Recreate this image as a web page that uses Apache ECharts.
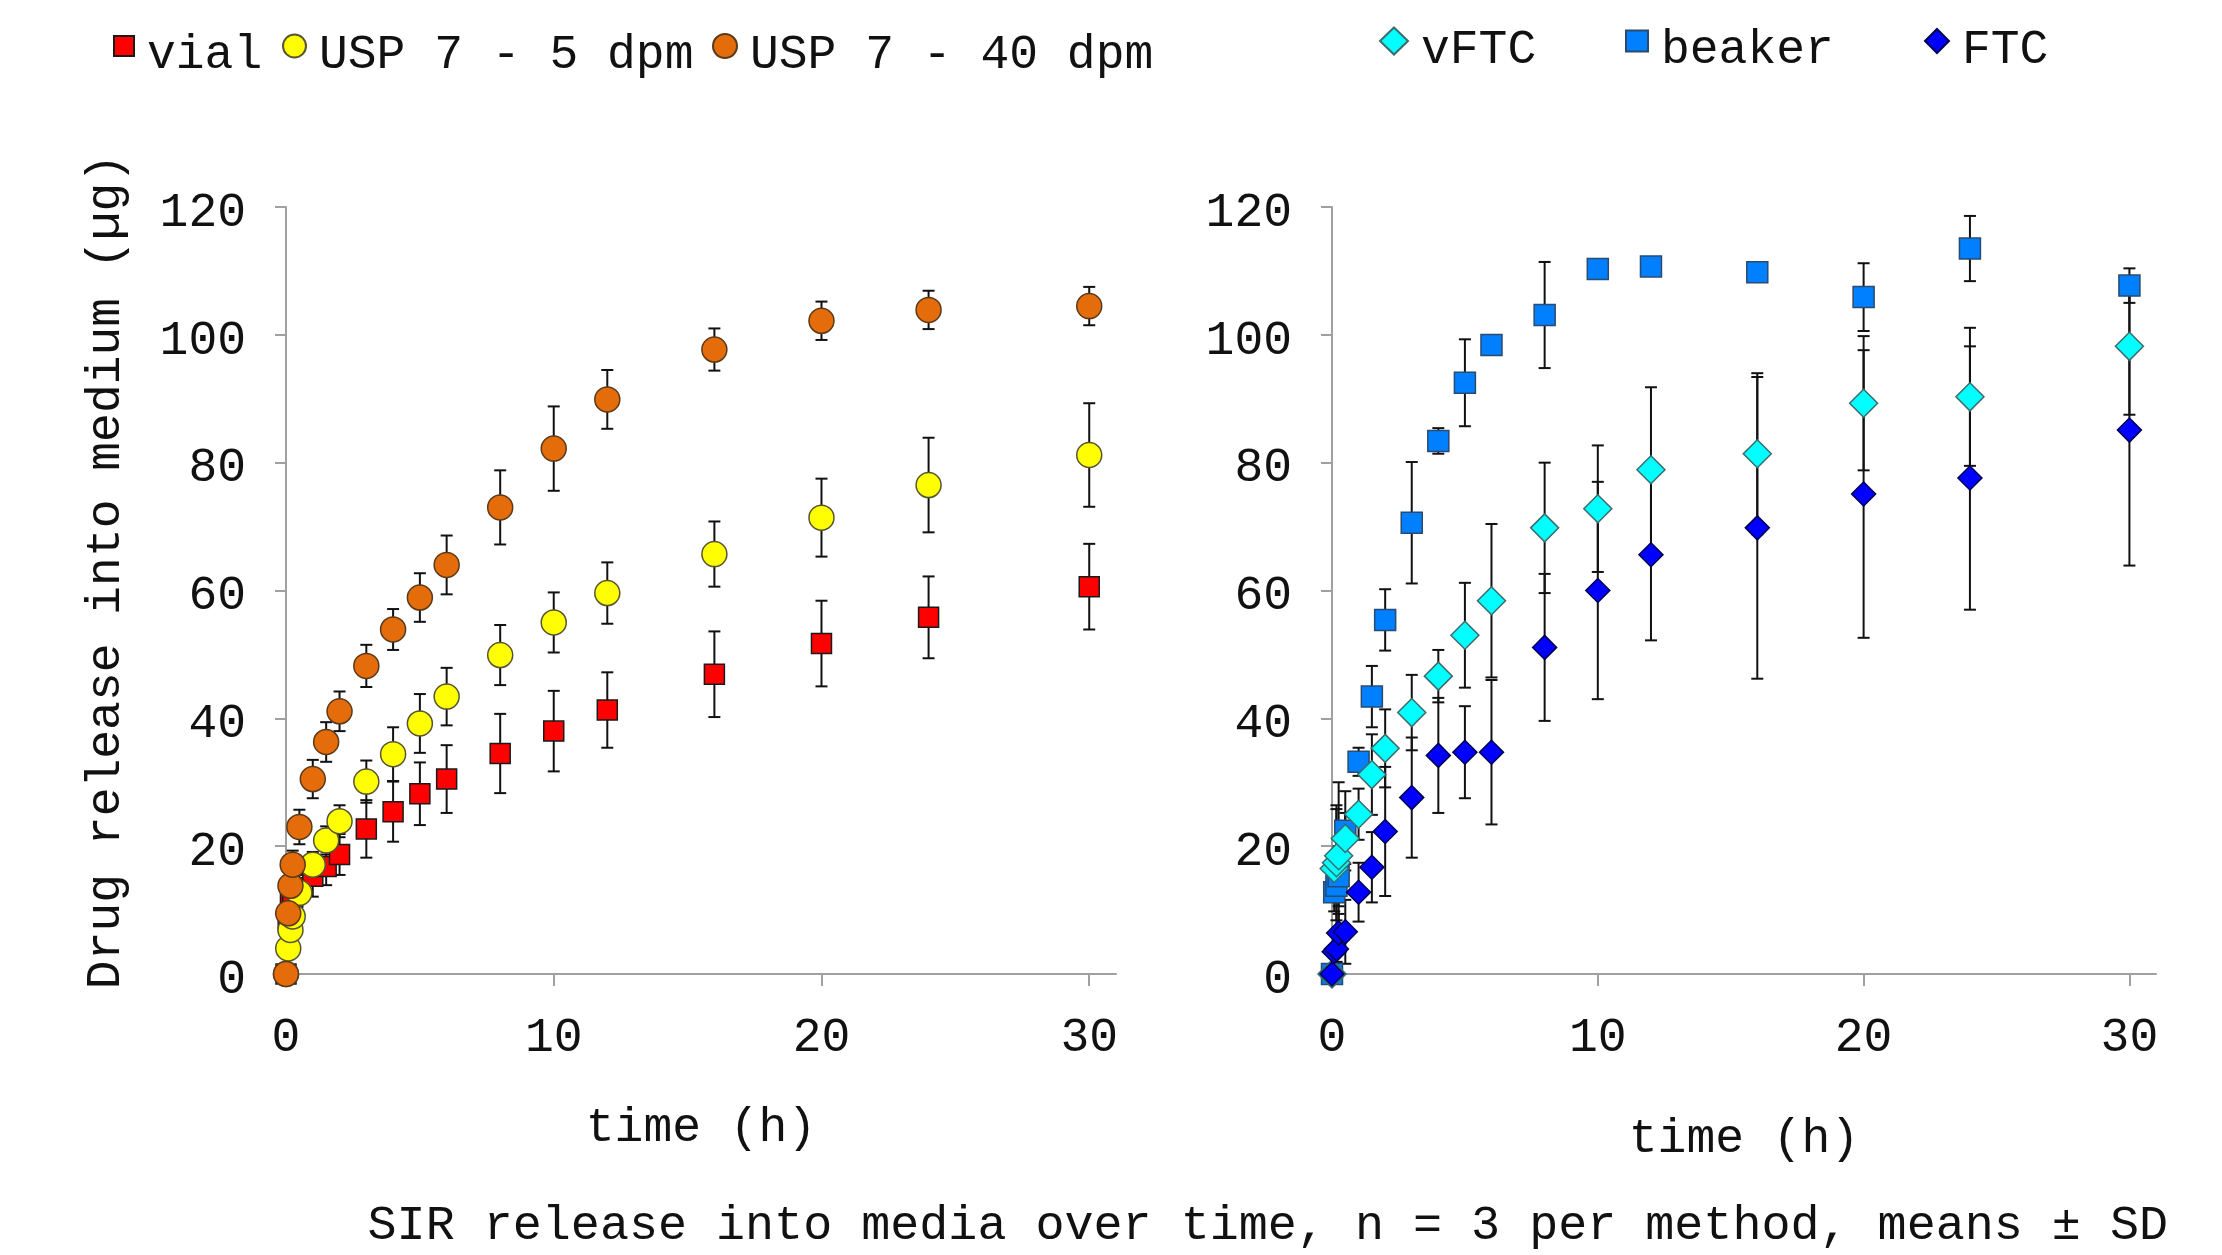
<!DOCTYPE html>
<html><head><meta charset="utf-8">
<script src="https://cdn.jsdelivr.net/npm/echarts@6/dist/echarts.min.js"></script>
<style>html,body{margin:0;padding:0;background:#fff}#c{width:2222px;height:1255px}</style>
</head><body><div id="c"></div>
<script>
// ---- data ----
const times = [0, 0.083, 0.167, 0.25, 0.5, 1, 1.5, 2, 3, 4, 5, 6, 8, 10, 12, 16, 20, 24, 30];

const vialMean = [0, 8.5, 11, 12, 13.5, 15.3, 16.8, 18.7, 22.7, 25.4, 28.2, 30.5, 34.5, 38, 41.3, 46.9, 51.7, 55.8, 60.6];
const vialSD   = [0, 1, 1.2, 1.5, 2, 3.2, 2.9, 3.2, 4.5, 4.7, 4.9, 5.3, 6.2, 6.3, 5.9, 6.7, 6.7, 6.4, 6.7];

const usp5Mean = [0, 4, 6.9, 9, 12.7, 17.1, 20.9, 23.9, 30.1, 34.4, 39.2, 43.4, 49.9, 55, 59.6, 65.7, 71.4, 76.5, 81.2];
const usp5SD   = [0, 0.5, 0.8, 1, 1.5, 2, 2.2, 2.5, 3.3, 4.2, 4.6, 4.5, 4.7, 4.7, 4.8, 5.1, 6.1, 7.4, 8.1];

const usp40Mean = [0, 9.5, 13.8, 17.1, 23, 30.5, 36.3, 41.1, 48.2, 53.9, 58.9, 64, 73, 82.2, 89.9, 97.7, 102.2, 103.9, 104.5];
const usp40SD   = [0, 1, 1.5, 2.2, 2.7, 3, 3.1, 3.1, 3.3, 3.2, 3.8, 4.6, 5.8, 6.6, 4.6, 3.3, 3, 3, 3];

const vftcMean = [0, 16.5, 17.4, 18.5, 21.2, 25, 31.2, 35.3, 40.9, 46.6, 53, 58.4, 69.8, 72.8, 78.9, 81.4, 89.3, 90.3, 98.2];
const vftcSD   = [0, 1.5, 9, 11.5, 4, 4, 6.3, 6.1, 5.9, 4.1, 8.2, 12, 10.2, 9.9, 12.9, 12.6, 10.5, 10.8, 10.7];

const beakerMean = [0, 12.8, 13.8, 15.3, 22.4, 33.2, 43.4, 55.4, 70.6, 83.4, 92.5, 98.4, 103.1, 110.3, 110.7, 109.8, 105.9, 113.5, 107.7];
const beakerSD   = [0, 3, 12, 4.7, 6.2, 2.2, 4.8, 4.8, 9.5, 2, 6.8, 1, 8.3, 1, 0.5, 0.5, 5.3, 5.1, 2.7];

const ftcMean = [0, 3.5, 3.9, 6.4, 6.6, 12.8, 16.7, 22.3, 27.6, 34.2, 34.7, 34.7, 51.1, 60, 65.6, 69.8, 75.1, 77.6, 85.1];
const ftcSD   = [0, 1, 2, 3, 5, 4.6, 5.5, 10.1, 9.4, 9, 7.2, 11.3, 11.5, 17, 13.4, 23.6, 22.5, 20.6, 21.2];

const xTickValues = [0, 10, 20, 30];
const yMin = 0, yMax = 120, yStep = 20;
const xMin = 0, xMax = 31;

const yTitle = 'Drug release into medium (\u00b5g)';
const xTitle = 'time (h)';
const caption = 'SIR release into media over time, n = 3 per method, means \u00b1 SD';

// ---- styling ----
const FONT = '"Liberation Mono", "Courier New", monospace';
const AX = '#A0A0A0';
const FS = 48;

function pts(means) { return times.map((t, i) => [t, means[i]]); }

function errSeries(idx, means, sds) {
  const data = [];
  times.forEach((t, i) => { if (sds[i] > 0) data.push([t, means[i] - sds[i], means[i] + sds[i]]); });
  return {
    type: 'custom', xAxisIndex: idx, yAxisIndex: idx, z: 2, silent: true,
    data: data, encode: { x: 0, y: [1, 2] },
    renderItem: function (params, api) {
      const lo = api.coord([api.value(0), api.value(1)]);
      const hi = api.coord([api.value(0), api.value(2)]);
      const w = 6;
      const st = { stroke: '#111', lineWidth: 2 };
      return { type: 'group', children: [
        { type: 'line', shape: { x1: lo[0], y1: lo[1], x2: hi[0], y2: hi[1] }, style: st },
        { type: 'line', shape: { x1: lo[0] - w, y1: lo[1], x2: lo[0] + w, y2: lo[1] }, style: st },
        { type: 'line', shape: { x1: hi[0] - w, y1: hi[1], x2: hi[0] + w, y2: hi[1] }, style: st }
      ]};
    }
  };
}

function scat(name, idx, means, symbol, size, color, border, z) {
  return {
    type: 'scatter', name: name, xAxisIndex: idx, yAxisIndex: idx, z: z,
    data: pts(means), symbol: symbol, symbolSize: size,
    itemStyle: { color: color, borderColor: border, borderWidth: 1.5, opacity: 1 },
    emphasis: { disabled: true }
  };
}

function xAx(idx, gap) {
  return {
    gridIndex: idx, type: 'value', min: xMin, max: xMax,
    axisLine: { show: true, onZero: false, lineStyle: { color: AX, width: 2 } },
    axisTick: { show: true, length: 12, customValues: xTickValues, lineStyle: { color: AX, width: 2 } },
    axisLabel: { customValues: xTickValues, margin: 40, fontFamily: FONT, fontSize: FS, color: '#111' },
    splitLine: { show: false },
    name: xTitle, nameLocation: 'middle', nameGap: gap,
    nameTextStyle: { fontFamily: FONT, fontSize: FS, color: '#111' }
  };
}

function yAx(idx, withName) {
  const o = {
    gridIndex: idx, type: 'value', min: yMin, max: yMax, interval: yStep,
    axisLine: { show: true, onZero: false, lineStyle: { color: AX, width: 2 } },
    axisTick: { show: true, length: 11, lineStyle: { color: AX, width: 2 } },
    axisLabel: { margin: 40, fontFamily: FONT, fontSize: FS, color: '#111', verticalAlign: 'top', lineHeight: 12 },
    splitLine: { show: false }
  };
  if (withName) {
    o.name = yTitle; o.nameLocation = 'middle'; o.nameGap = 156;
    o.nameTextStyle = { fontFamily: FONT, fontSize: FS, color: '#111', padding: [0, 0, 0, 38] };
  }
  return o;
}

function leg(name, left, top, w, h) {
  return {
    data: [name], left: left, top: top, padding: 0, orient: 'horizontal',
    itemWidth: w, itemHeight: h, selectedMode: false,
    formatter: function (n) { return '{g| }{t|' + n + '}'; },
    textStyle: {
      fontFamily: FONT, fontSize: FS, color: '#111',
      rich: {
        g: { fontSize: 1, lineHeight: 66, width: 8 },
        t: { fontFamily: FONT, fontSize: FS, lineHeight: FS, color: '#111', verticalAlign: 'bottom' }
      }
    }
  };
}

const chart = echarts.init(document.getElementById('c'), null, { renderer: 'canvas' });
chart.setOption({
  animation: false,
  backgroundColor: '#fff',
  title: {
    text: caption, right: 54, top: 1202, padding: 0,
    textStyle: { fontFamily: FONT, fontSize: 48.4, fontWeight: 'normal', color: '#111' }
  },
  legend: [
    leg('vial', 113, 31, 20, 20),
    leg('USP 7 - 5 dpm', 282, 31, 23, 23),
    leg('USP 7 - 40 dpm', 712, 31, 24, 24),
    leg('vFTC', 1379, 26, 28, 27),
    leg('beaker', 1625, 26, 22, 21),
    leg('FTC', 1924, 26, 24, 24)
  ],
  grid: [
    { left: 286, top: 207, width: 830, height: 767 },
    { left: 1332, top: 207, width: 824, height: 767 }
  ],
  xAxis: [xAx(0, 130), xAx(1, 141)],
  yAxis: [yAx(0, true), yAx(1, false)],
  series: [
    errSeries(0, vialMean, vialSD),
    errSeries(0, usp5Mean, usp5SD),
    errSeries(0, usp40Mean, usp40SD),
    errSeries(1, beakerMean, beakerSD),
    errSeries(1, vftcMean, vftcSD),
    errSeries(1, ftcMean, ftcSD),
    scat('vial', 0, vialMean, 'rect', [20, 20], '#FF0000', '#1a1a1a', 5),
    scat('USP 7 - 5 dpm', 0, usp5Mean, 'circle', 25, '#FFFF00', '#555533', 6),
    scat('USP 7 - 40 dpm', 0, usp40Mean, 'circle', 25, '#E46C0A', '#5a3a1a', 7),
    scat('beaker', 1, beakerMean, 'rect', [21, 21], '#0080FF', '#2a4a70', 5),
    scat('vFTC', 1, vftcMean, 'diamond', [28, 28], '#00FFFF', '#3d6b6b', 6),
    scat('FTC', 1, ftcMean, 'diamond', [24, 24], '#0000FF', '#000050', 7)
  ]
});
</script>
</body></html>
